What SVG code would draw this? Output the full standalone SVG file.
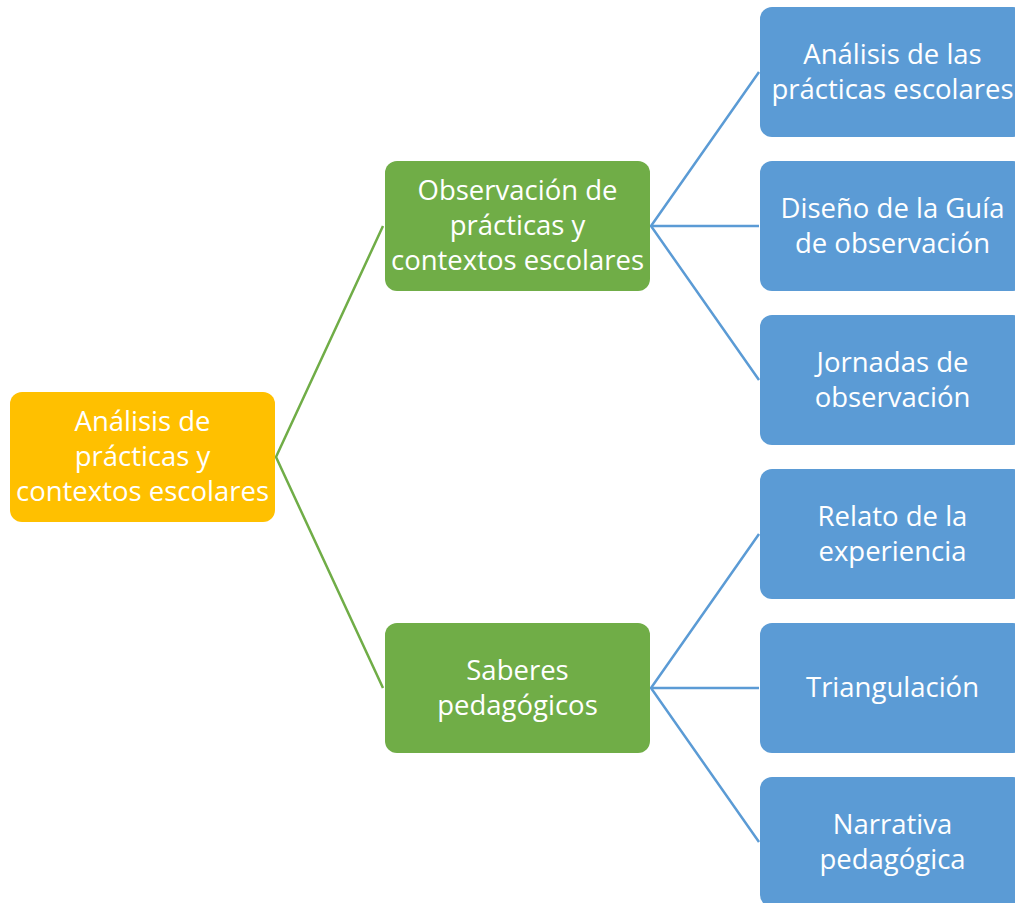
<svg xmlns="http://www.w3.org/2000/svg" width="1015" height="903" viewBox="0 0 1015 903">
<style>
text{font-family:"Open Sans","Liberation Sans",sans-serif;font-size:27.5px;fill:#fff;text-anchor:middle}
.root{fill:#FFC000}
.mid{fill:#70AD47}
.leaf{fill:#5B9BD5}
.cg{stroke:#70AD47;stroke-width:2.5;fill:none}
.cb{stroke:#5B9BD5;stroke-width:2.5;fill:none}
</style>
<rect width="1015" height="903" fill="#fff"/>
<g id="connectors">
<polyline class="cg" points="383,226 276,457 383,688"/>
<polyline class="cb" points="759,72 651,226 759,380"/>
<line class="cb" x1="651" y1="226" x2="759" y2="226"/>
<polyline class="cb" points="759,534 651,688 759,842"/>
<line class="cb" x1="651" y1="688" x2="759" y2="688"/>
</g>
<g id="root">
<rect class="root" x="10" y="392" width="265" height="130" rx="12"/>
<text x="142.5" y="431">Análisis de</text>
<text x="142.5" y="466">prácticas y</text>
<text x="142.5" y="501">contextos escolares</text>
</g>
<g id="obs">
<rect class="mid" x="385" y="161" width="265" height="130" rx="12"/>
<text x="517.5" y="200">Observación de</text>
<text x="517.5" y="235">prácticas y</text>
<text x="517.5" y="270">contextos escolares</text>
</g>
<g id="saberes">
<rect class="mid" x="385" y="623" width="265" height="130" rx="12"/>
<text x="517.5" y="680">Saberes</text>
<text x="517.5" y="715">pedagógicos</text>
</g>
<g id="leaf1">
<rect class="leaf" x="760" y="7" width="265" height="130" rx="12"/>
<text x="892.5" y="64">Análisis de las</text>
<text x="892.5" y="99">prácticas escolares</text>
</g>
<g id="leaf2">
<rect class="leaf" x="760" y="161" width="265" height="130" rx="12"/>
<text x="892.5" y="218">Diseño de la Guía</text>
<text x="892.5" y="253">de observación</text>
</g>
<g id="leaf3">
<rect class="leaf" x="760" y="315" width="265" height="130" rx="12"/>
<text x="892.5" y="372">Jornadas de</text>
<text x="892.5" y="407">observación</text>
</g>
<g id="leaf4">
<rect class="leaf" x="760" y="469" width="265" height="130" rx="12"/>
<text x="892.5" y="526">Relato de la</text>
<text x="892.5" y="561">experiencia</text>
</g>
<g id="leaf5">
<rect class="leaf" x="760" y="623" width="265" height="130" rx="12"/>
<text x="892.5" y="697">Triangulación</text>
</g>
<g id="leaf6">
<rect class="leaf" x="760" y="777" width="265" height="130" rx="12"/>
<text x="892.5" y="834">Narrativa</text>
<text x="892.5" y="869">pedagógica</text>
</g>
</svg>
